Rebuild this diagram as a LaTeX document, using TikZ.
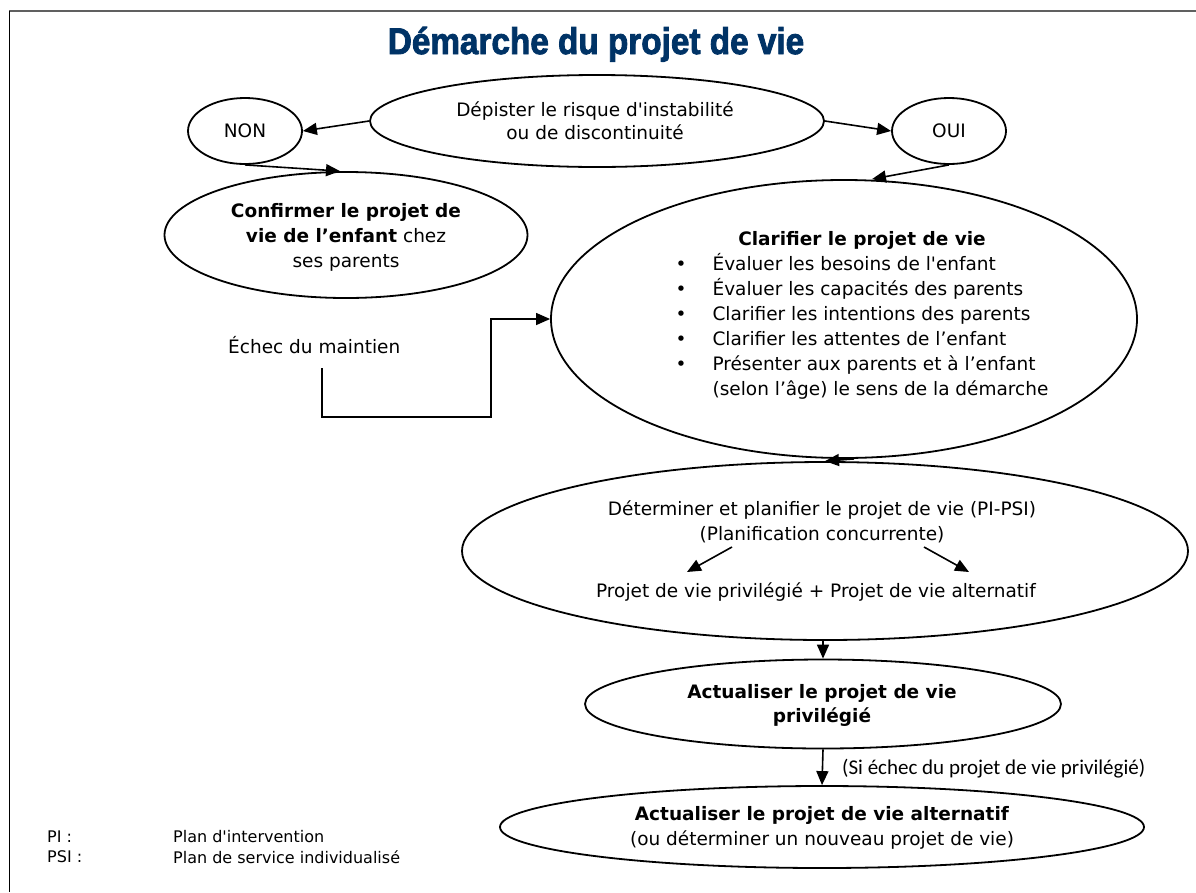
\documentclass[tikz,border=0pt]{standalone}
\usepackage{fontspec}
\setmainfont{DejaVu Sans}[Ligatures=TeXOff]
\newfontfamily\carl{Carlito}[Ligatures=TeXOff]
\newfontfamily\titlef{Liberation Sans}[Ligatures=TeXOff,BoldFeatures={FakeBold=2.5}]
\usetikzlibrary{shapes.geometric,arrows.meta}
\definecolor{navy}{RGB}{0,51,102}
\begin{document}
\begin{tikzpicture}[x=1pt,y=-1pt,
  ell/.style={draw, ellipse, line width=1.8pt, inner sep=0pt},
  txt/.style={font=\fontsize{18.5}{25}\selectfont, align=center, inner sep=0pt},
  arr/.style={-{Triangle[length=14pt,width=12pt]}, line width=1.6pt},
  conn/.style={line width=1.3pt},
]
\useasboundingbox (0,0) rectangle (1196,892);
% frame
\draw[gray!75!black, line width=1.6pt] (9,11) -- (1196,11);
\draw[line width=1pt] (9,11) -- (9,892);

% title
\node[anchor=base, inner sep=0pt, text=navy] (title) at (596,54)
  {\scalebox{0.9}[1]{\titlef\bfseries\fontsize{37}{40}\selectfont Démarche du projet de vie}};

% top row
\node[ell, minimum width=454, minimum height=92] (screen) at (597,121) {};
\node[txt, font=\fontsize{18.5}{23}\selectfont] (screentxt) at (595,121) {Dépister le risque d'instabilité\\ou de discontinuité};
\node[ell, minimum width=114, minimum height=66, txt] (non) at (245,131) {NON};
\node[ell, minimum width=114, minimum height=66, txt] (oui) at (949,131) {OUI};

\draw[arr] (screen.west) -- (non.east);
\draw[arr] (screen.east) -- (oui.west);

% confirm
\node[ell, minimum width=363, minimum height=126] (confirm) at (346,235) {};
\node[txt] (confirmtxt) at (346,237) {\textbf{Confirmer le projet de}\\\textbf{vie de l’enfant} chez\\ses parents};
\draw[arr] (non.south) -- ([xshift=-6pt]confirm.north);

% clarify
\node[ell, minimum width=586, minimum height=278] (clarify) at (844,319) {};
\node[txt] (clartxt) at (862,315) {%
  \begin{tabular}{@{}p{37pt}@{}l@{}}
  \multicolumn{2}{c}{\textbf{Clarifier le projet de vie}}\\
  •& Évaluer les besoins de l'enfant\\
  •& Évaluer les capacités des parents\\
  •& Clarifier les intentions des parents\\
  •& Clarifier les attentes de l’enfant\\
  •& Présenter aux parents et à l’enfant\\
   & (selon l’âge) le sens de la démarche
  \end{tabular}};
\draw[arr] (oui.south) -- ([xshift=28pt]clarify.north);

% echec
\node[txt, anchor=base west] (echec) at (228,353) {Échec du maintien};
\coordinate (e1) at (322,368);
\draw[arr, conn] (e1) |- (491,417) |- (clarify.west);

% determiner
\node[ell, minimum width=726, minimum height=178] (determ) at (825,551) {};
\node[txt] (dettxt) at (822,522) {Déterminer et planifier le projet de vie (PI-PSI)\\(Planification concurrente)};
\node[txt] (projtxt) at (816,592) {Projet de vie privilégié + Projet de vie alternatif};
\coordinate (la) at (732,547);
\coordinate (lb) at (687,572);
\coordinate (ra) at (924,547);
\coordinate (rb) at (969,572);
\draw[arr] (la) -- (lb);
\draw[arr] (ra) -- (rb);
\draw[arr] ([xshift=10pt]clarify.south) -- (determ.north);

% actualiser privilegie
\node[ell, minimum width=476, minimum height=89] (act1) at (823,704) {};
\node[txt, font=\fontsize{18.5}{24}\selectfont\bfseries] (act1txt) at (822,705) {Actualiser le projet de vie\\privilégié};
\draw[arr] (determ.south -| act1.north) -- (act1.north);

% actualiser alternatif
\node[ell, minimum width=644, minimum height=82] (act2) at (822,827) {};
\node[txt] (act2txt) at (822,828) {\textbf{Actualiser le projet de vie alternatif}\\(ou déterminer un nouveau projet de vie)};
\draw[arr] (act1.south) -- (act2.north);
\node[anchor=west, inner sep=0pt, font=\carl\fontsize{21}{24}\selectfont] (silbl) at (842,769) {(Si échec du projet de vie privilégié)};

% legend
\node[anchor=west, inner sep=0pt, font=\fontsize{16}{20}\selectfont] (pi) at (47,837) {PI :};
\node[anchor=west, inner sep=0pt, font=\fontsize{16}{20}\selectfont] (pidef) at (173,837) {Plan d'intervention};
\node[anchor=west, inner sep=0pt, font=\fontsize{16}{20}\selectfont] (psi) at (47,857) {PSI :};
\node[anchor=west, inner sep=0pt, font=\fontsize{16}{20}\selectfont] (psidef) at (173,857) {Plan de service individualisé};
\end{tikzpicture}
\end{document}
